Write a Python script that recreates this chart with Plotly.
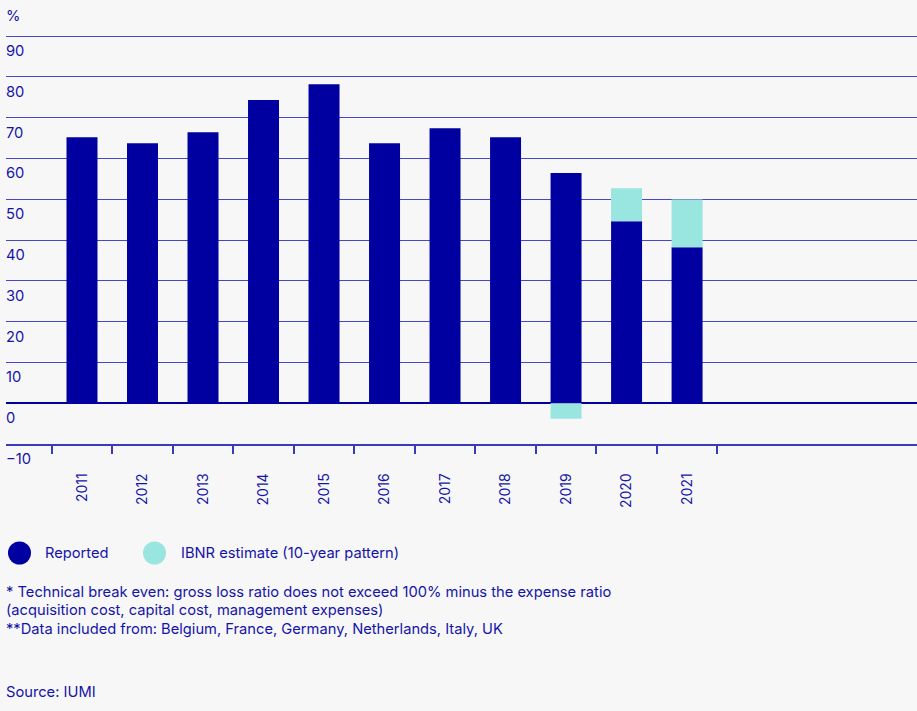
import plotly.graph_objects as go

years = ["2011", "2012", "2013", "2014", "2015", "2016", "2017", "2018", "2019", "2020", "2021"]
reported = [65.2, 63.7, 66.4, 74.3, 78.2, 63.7, 67.4, 65.2, 56.4, 44.6, 38.2]
ibnr = [0, 0, 0, 0, 0, 0, 0, 0, -3.8, 8.1, 11.7]
y_ticks = [-10, 0, 10, 20, 30, 40, 50, 60, 70, 80, 90]

DARK = "#0000A0"
TEXT = "#1414A8"
TURQ = "#98E6DF"
BG = "#F7F7F7"
FONT = "Inter, Liberation Sans, Arial, sans-serif"
FS = 14.7

TOP, BOT = 35, 267
PLOT_H = 711 - TOP - BOT

fig = go.Figure()
fig.add_bar(x=years, y=reported, name="Reported", marker_color=DARK,
            marker_line_width=0, width=0.512)
fig.add_bar(x=years, y=ibnr, name="IBNR estimate (10-year pattern)", marker_color=TURQ,
            marker_line_width=0, width=0.512)

fig.update_layout(
    width=917, height=711,
    margin=dict(l=6, r=0, t=TOP, b=BOT),
    paper_bgcolor=BG, plot_bgcolor=BG,
    barmode="relative",
    showlegend=False,
    font=dict(family=FONT, color=TEXT, size=FS),
)
fig.update_yaxes(
    range=[-10, 90.25], tickvals=y_ticks, showticklabels=False,
    showgrid=True, gridcolor="#4848c4", gridwidth=1.3,
    zeroline=True, zerolinecolor=DARK, zerolinewidth=1.6,
    layer="above traces", fixedrange=True,
)
fig.update_xaxes(
    type="category", range=[-1.256, 13.80],
    showline=True, linecolor="#3a3abf", linewidth=1.5,
    ticks="outside", tickson="boundaries", ticklen=8, tickcolor="#3a3abb", tickwidth=1.5,
    tickangle=-90, ticklabelstandoff=22, tickfont=dict(size=14, color=TEXT),
    showgrid=False,
)

# y tick labels, placed just below each gridline at the left edge
for v in y_ticks:
    fig.add_annotation(x=0, y=v, xref="paper", yref="y",
                       text="\u221210" if v < 0 else str(v),
                       showarrow=False, xanchor="left", yanchor="middle",
                       yshift=-15, xshift=-2)

def py(pix):
    # pixel y (from top) -> paper coordinate
    return (711 - BOT - pix) / PLOT_H

def px(pix):
    return (pix - 6) / 911.0

# "%" label
fig.add_annotation(x=0, y=py(16), xref="paper", yref="paper", text="%", showarrow=False,
                   xanchor="left", yanchor="middle", xshift=-2)

# custom legend
legend_y = 553
fig.add_shape(type="circle", xref="paper", yref="paper",
              x0=px(8), x1=px(31), y0=py(legend_y + 11.5), y1=py(legend_y - 11.5),
              fillcolor=DARK, line_width=0)
fig.add_shape(type="circle", xref="paper", yref="paper",
              x0=px(143), x1=px(166), y0=py(legend_y + 11.5), y1=py(legend_y - 11.5),
              fillcolor=TURQ, line_width=0)
fig.add_annotation(x=px(45), y=py(legend_y), xref="paper", yref="paper", text="Reported",
                   showarrow=False, xanchor="left", yanchor="middle", xshift=-2)
fig.add_annotation(x=px(181), y=py(legend_y), xref="paper", yref="paper",
                   text="IBNR estimate (10-year pattern)",
                   showarrow=False, xanchor="left", yanchor="middle", xshift=-2)

notes = [
    (592, "* Technical break even: gross loss ratio does not exceed 100% minus the expense ratio"),
    (610, "(acquisition cost, capital cost, management expenses)"),
    (629, "**Data included from: Belgium, France, Germany, Netherlands, Italy, UK"),
    (692, "Source: IUMI"),
]
for yy, t in notes:
    fig.add_annotation(x=px(6), y=py(yy), xref="paper", yref="paper", text=t,
                       showarrow=False, xanchor="left", yanchor="middle", xshift=-2)

fig.write_html("out.html")
